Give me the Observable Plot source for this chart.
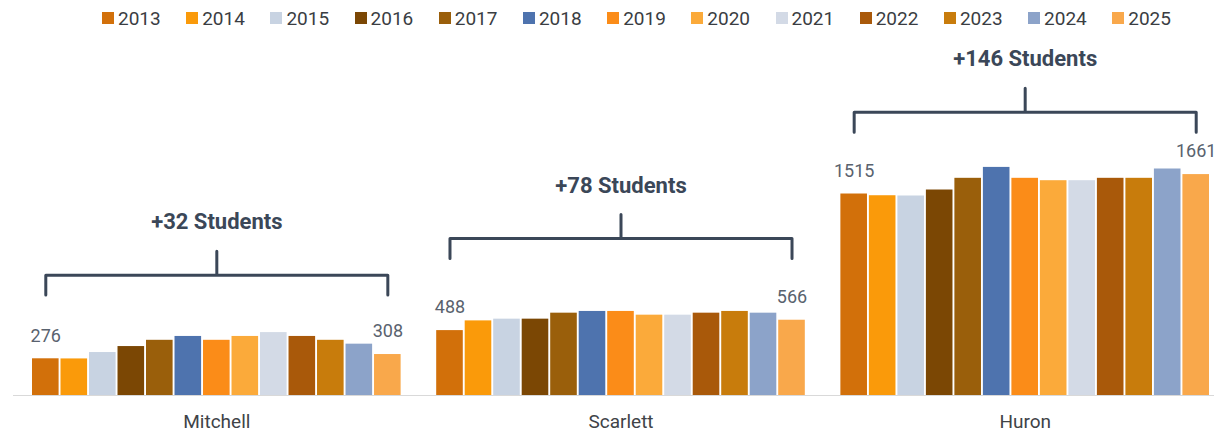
<!DOCTYPE html>
<html>
<head>
<meta charset="utf-8">
<script src="https://cdn.jsdelivr.net/npm/d3@7"></script>
<script src="https://cdn.jsdelivr.net/npm/@observablehq/plot@0.6"></script>
<style>
  html, body { margin: 0; padding: 0; background: #fff; }
  body { width: 1214px; height: 434px; overflow: hidden; font-family: Roboto, sans-serif; }
  #legend { display: flex; align-items: center; height: 36px; padding-left: 102px; box-sizing: border-box; }
  .item { display: flex; align-items: center; width: 84.2px; flex: none; }
  .sw { width: 12px; height: 12px; margin-right: 4px; flex: none; }
  .lab { font-size: 19px; color: #3a3d42; }
  #chart svg { display: block; }
</style>
</head>
<body>
<div id="legend"></div>
<div id="chart"></div>
<script>
const groups = ["Mitchell", "Scarlett", "Huron"];
const years = ["2013","2014","2015","2016","2017","2018","2019","2020","2021","2022","2023","2024","2025"];
const mitchell = [276, 275, 323, 368, 415, 444, 415, 444, 473, 444, 415, 386, 308];
const scarlett = [488, 561, 574, 574, 619, 632, 632, 604, 604, 619, 632, 619, 566];
const huron = [1515, 1502, 1500, 1545, 1633, 1715, 1633, 1615, 1615, 1633, 1633, 1703, 1661];
const colors = ["#D2700A","#FA9A0A","#C8D3E2","#7B4704","#9A5F0B","#4E73AE","#FB8C18","#FBAA3A","#D3DAE6","#A9590A","#C87C0C","#8CA3C9","#F9A84B"];
const bracketLevel = [905, 1181, 2130];   // annotation brace height, in students

const series = [mitchell, scarlett, huron];
const rows = [];
groups.forEach((g, gi) => years.forEach((y, yi) => rows.push({group: g, year: y, value: series[gi][yi]})));
const ends = rows.filter(d => d.year === years[0] || d.year === years[years.length - 1]);

const drop = 150, rise = 180;
const brace = [];
const notes = [];
groups.forEach((g, gi) => {
  const L = bracketLevel[gi];
  const mid = years[6], a = years[0], b = years[years.length - 1];
  [[a, L - drop], [a, L], [mid, L], [mid, L + rise], [mid, L], [b, L], [b, L - drop]]
    .forEach(([x, y]) => brace.push({group: g, year: x, value: y}));
  const s = series[gi];
  notes.push({group: g, year: mid, value: L + rise, text: `+${s[s.length - 1] - s[0]} Students`});
});

// legend
const leg = document.getElementById("legend");
years.forEach((y, i) => {
  const it = document.createElement("div"); it.className = "item";
  const sw = document.createElement("div"); sw.className = "sw"; sw.style.background = colors[i];
  const lb = document.createElement("span"); lb.className = "lab"; lb.textContent = y;
  it.appendChild(sw); it.appendChild(lb); leg.appendChild(it);
});

const plot = Plot.plot({
  width: 1214,
  height: 398,
  marginLeft: 32,
  marginRight: 5,
  marginTop: 93,
  marginBottom: 39,
  style: {fontFamily: "Roboto, sans-serif", fontSize: "19px", color: "#404347", background: "transparent"},
  fx: {domain: groups, paddingInner: 0.088, paddingOuter: 0, round: false, axis: "bottom", tickSize: 0, tickPadding: 19, label: null},
  x: {domain: years, paddingInner: 0.067, paddingOuter: 0, round: false, axis: null},
  y: {domain: [0, 2000], axis: null},
  color: {domain: years, range: colors},
  marks: [
    Plot.barY(rows, {fx: "group", x: "year", y: "value", fill: "year"}),
    Plot.text(ends, {fx: "group", x: "year", y: "value", text: d => String(d.value), dy: -23, fill: "#59626e", fontSize: 18}),
    Plot.line(brace, {fx: "group", x: "year", y: "value", z: "group", stroke: "#3b4758", strokeWidth: 3, strokeLinejoin: "round", strokeLinecap: "round"}),
    Plot.text(notes, {fx: "group", x: "year", y: "value", text: "text", dy: -29, fill: "#3b4758", fontWeight: "bold", fontSize: 22})
  ]
});

const y0 = plot.scale("y").apply(0);
d3.select(plot).insert("line", ":first-child")
  .attr("x1", 13).attr("x2", 1214).attr("y1", y0 + 0.5).attr("y2", y0 + 0.5)
  .attr("stroke", "#d9d9d9").attr("stroke-width", 1);

document.getElementById("chart").appendChild(plot);
</script>
</body>
</html>
